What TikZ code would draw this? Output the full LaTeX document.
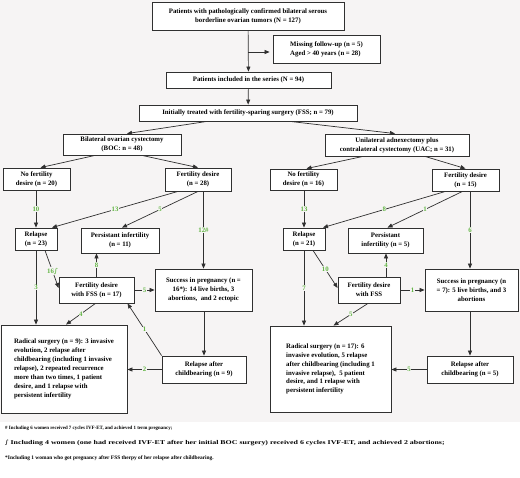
\documentclass[tikz,border=0pt]{standalone}
\usepackage{fontspec}
\setmainfont{Liberation Serif}
\newfontfamily\symfont{DejaVu Serif}
\newfontfamily\widefont[FakeStretch=1.35]{Liberation Serif}
\usepackage{xcolor}
\definecolor{cLine}{HTML}{303030}
\definecolor{cNum}{HTML}{62B544}
\definecolor{cBack}{HTML}{F6F4F4}
\usepackage{tikz}
\usetikzlibrary{positioning,arrows.meta,calc}
\newcommand{\ppx}{*0.03cm}
\newcommand{\intmark}{{\symfont ∫}}
\tikzset{
  node-box/.style={draw=cLine,line width=0.7pt,fill=white,align=center,
    inner sep=1pt,font=\fontsize{5.8}{7.6}\selectfont\bfseries},
  node-text/.style={node-box,align=left,inner sep=3pt},
  sz/.style 2 args={minimum width=#1\ppx,minimum height=#2\ppx},
  arrow/.style={-{Triangle[length=1.5mm,width=1.2mm]},line width=0.6pt,draw=cLine},
  num/.style={text=cNum,fill=cBack,inner sep=0.4pt,
    font=\fontsize{5.8}{6}\selectfont\bfseries},
  foot/.style={anchor=west,inner sep=0pt,font=\fontsize{4.6}{5}\selectfont\bfseries},
}
\begin{document}
\begin{tikzpicture}[x=0.03cm,y=-0.03cm]
  \useasboundingbox (0,0) rectangle (520,478);
  \fill[cBack] (0,0) rectangle (520,422);
  % top part
  \node[node-box,sz={192}{28}] (top) at (248,16)
    {Patients with pathologically confirmed bilateral serous\\borderline ovarian tumors (N = 127)};
  \node[node-text,sz={107}{28}] (miss) at (326.5,49)
    {Missing follow-up (n = 5)\\Aged > 40 years (n = 28)};
  \node[node-box,sz={165}{16}] (incl) at (248.5,80) {Patients included in the series (N = 94)};
  \node[node-box,sz={218}{16}] (init) at (248,113)
    {Initially treated with fertility-sparing surgery (FSS; n = 79)};
  \coordinate (side) at (248,52);
  \draw[arrow] (top) -- (incl);
  \draw[arrow,shorten >=3\ppx] (side) -- (side -| miss.west);
  \draw[arrow] (incl) -- (init);
  % BOC branch
  \node[node-box,sz={118}{21}] (boc) at (122,144.5)
    {Bilateral ovarian cystectomy\\(BOC: n = 48)};
  \node[node-box,sz={67}{22}] (nfdL) at (36.5,179) {No fertility\\desire (n = 20)};
  \node[node-box,sz={66}{23}] (fdL) at (198,179.5) {Fertility desire\\(n = 28)};
  \node[node-box,sz={42}{22}] (relL) at (36,239) {Relapse\\(n = 23)};
  \node[node-box,sz={78}{25}] (piL) at (120,240.5) {Persistant infertility\\(n = 11)};
  \node[node-box,sz={75}{26}] (fssL) at (96.5,290) {Fertility desire\\with FSS (n = 17)};
  \node[node-box,sz={97}{42}] (sucL) at (203.5,290)
    {Success in pregnancy (n =\\16*): 14 live births, 3\\abortions,\ \ and 2 ectopic};
  \node[node-box,sz={84}{27}] (racL) at (204,369.5) {Relapse after\\childbearing (n = 9)};
  \node[node-text,sz={126}{88}] (radL) at (64,369)
    {Radical surgery (n = 9): 3 invasive\\evolution, 2 relapse after\\childbearing (including 1 invasive\\relapse), 2 repeated recurrence\\more than two times, 1 patient\\desire, and 1 relapse with\\persistent infertility};
  % UAC branch
  \node[node-box,sz={144}{22}] (uac) at (397,145)
    {Unilateral adnexectomy plus\\contralateral cystectomy (UAC; n = 31)};
  \node[node-box,sz={67}{21}] (nfdR) at (303.5,179.5) {No fertility\\desire (n = 16)};
  \node[node-box,sz={67}{22}] (fdR) at (465.5,180) {Fertility desire\\(n = 15)};
  \node[node-box,sz={42}{22}] (relR) at (304,239) {Relapse\\(n = 21)};
  \node[node-box,sz={75}{25}] (piR) at (385.5,240.5) {Persistant\\infertility (n = 5)};
  \node[node-box,sz={62}{26}] (fssR) at (369,290) {Fertility desire\\with FSS};
  \node[node-box,sz={93}{42}] (sucR) at (471.5,290)
    {Success in pregnancy (n\\= 7): 5 live births, and 3\\abortions};
  \node[node-box,sz={86}{27}] (racR) at (470,369.5) {Relapse after\\childbearing (n = 5)};
  \node[node-text,sz={121}{86}] (radR) at (330.5,369)
    {Radical surgery (n = 17): 6\\invasive evolution, 5 relapse\\after childbearing (including 1\\invasive relapse),\ \ 5 patient\\desire, and 1 relapse with\\persistent infertility};
  \draw[arrow] ([xshift=-41\ppx]init.south) -- ([xshift=5\ppx]boc.north);
  \draw[arrow] ([xshift=42\ppx]init.south) -- ([xshift=-2\ppx]uac.north);
  \draw[arrow] ([xshift=-27\ppx]boc.south) -- ([xshift=4\ppx]nfdL.north);
  \draw[arrow] ([xshift=20\ppx]boc.south) -- (fdL.north);
  \draw[arrow] ([xshift=-34\ppx]uac.south) -- ([xshift=3\ppx]nfdR.north);
  \draw[arrow] ([xshift=28\ppx]uac.south) -- (fdR.north);
  % left connectors
  \draw[arrow] (nfdL.south -| relL.north) -- node[num]{10} (relL.north);
  \draw[arrow] ([xshift=-20\ppx]fdL.south) -- node[num]{13} ([xshift=16\ppx]relL.north);
  \draw[arrow] (fdL.south) -- node[num]{5} ([xshift=2\ppx]piL.north);
  \draw[arrow] (fdL.south -| sucL.north) -- node[num]{12\#} (sucL.north);
  \draw[arrow] (relL.south) -- node[num]{3} (relL.south |- radL.north);
  \draw[arrow] ([xshift=9\ppx]relL.south) -- node[num,pos=0.55]{16\intmark} ([yshift=2\ppx]fssL.west);
  \draw[arrow] (fssL.north) -- node[num]{8} (fssL.north |- piL.south);
  \draw[arrow] (fssL.east) -- node[num]{5} (fssL.east -| sucL.west);
  \draw[arrow] (sucL.south -| racL.north) -- (racL.north);
  \draw[arrow] (racL.north west) -- node[num]{1} ([xshift=31\ppx]fssL.south);
  \draw[arrow] (racL.west) -- node[num]{2} (racL.west -| radL.east);
  \draw[arrow] ([xshift=-1\ppx]fssL.south) -- node[num]{4} ([xshift=2\ppx]radL.north);
  % right connectors
  \draw[arrow] (nfdR.south -| relR.north) -- node[num]{13} (relR.north);
  \draw[arrow] ([xshift=-20\ppx]fdR.south) -- node[num]{8} ([xshift=19\ppx]relR.north);
  \draw[arrow] ([xshift=-3\ppx]fdR.south) -- node[num]{1} ([xshift=2\ppx]piR.north);
  \draw[arrow] (racR.north |- fdR.south) -- node[num]{6} (racR.north |- sucR.north);
  \draw[arrow] (relR.south) -- node[num]{7} (relR.south |- radR.north);
  \draw[arrow] ([xshift=9\ppx]relR.south) -- node[num]{10} ([yshift=2\ppx]fssR.west);
  \draw[arrow] ([xshift=17\ppx]fssR.north) -- node[num]{4} ([xshift=17\ppx]fssR.north |- piR.south);
  \draw[arrow] (fssR.east) -- node[num]{1} (fssR.east -| sucR.west);
  \draw[arrow] (sucR.south -| racR.north) -- (racR.north);
  \draw[arrow] (racR.west) -- node[num]{5} (racR.west -| radR.east);
  \draw[arrow] ([xshift=-1\ppx]fssR.south) -- node[num]{5} ([xshift=3\ppx]radR.north);
  % footnotes
  \node[foot,font=\fontsize{4.2}{5}\selectfont\bfseries] (fn1) at (5,428)
    {\# Including 6 women received 7 cycles IVF-ET, and achieved 1 term pregnancy;};
  \node[foot,font=\fontsize{5}{6}\selectfont\widefont\bfseries] (fn2) at (5,443)
    {\intmark\ Including 4 women (one had received IVF-ET after her initial BOC surgery) received 6 cycles IVF-ET, and achieved 2 abortions;};
  \node[foot] (fn3) at (5,458)
    {*Including 1 woman who got pregnancy after FSS therpy of her relapse after childbearing.};
\end{tikzpicture}
\end{document}
